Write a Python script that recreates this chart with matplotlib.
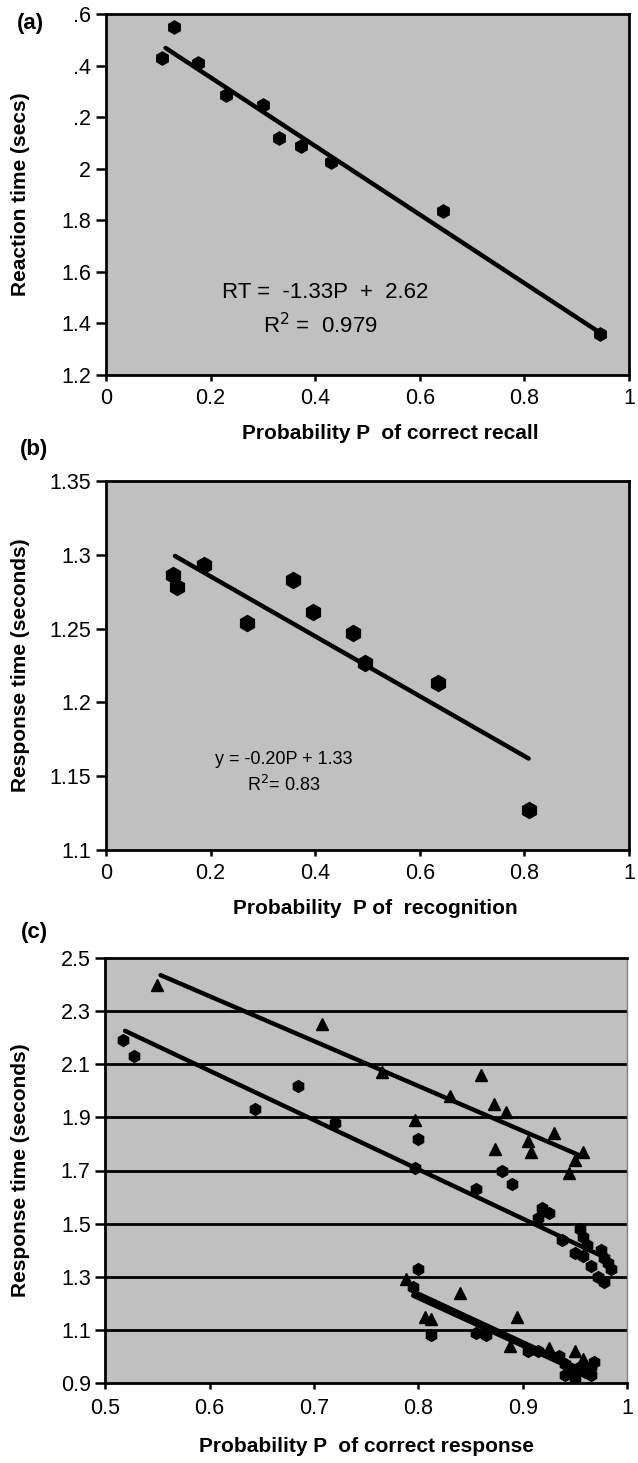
import numpy as np
import matplotlib
matplotlib.use('Agg')
import matplotlib.pyplot as plt

plt.rcParams['font.family'] = ['Liberation Sans', 'DejaVu Sans']

# (a) 再生確率と反応時間
pa_x = [0.107, 0.13, 0.176, 0.23, 0.30, 0.33, 0.373, 0.43, 0.644, 0.944]
pa_y = [2.43, 2.55, 2.41, 2.285, 2.247, 2.12, 2.09, 2.025, 1.835, 1.36]
pa_fit = (-1.33, 2.62)
pa_range = (0.114, 0.94)
pa_yticks = [1.2, 1.4, 1.6, 1.8, 2.0, 2.2, 2.4, 2.6]
pa_ylabels = ['1.2', '1.4', '1.6', '1.8', '2', '.2', '.4', '.6']

# (b) 再認確率と反応時間
pb_x = [0.128, 0.136, 0.187, 0.27, 0.358, 0.395, 0.472, 0.496, 0.634, 0.808]
pb_y = [1.286, 1.278, 1.293, 1.254, 1.283, 1.261, 1.247, 1.227, 1.213, 1.127]
pb_fit = (-0.203, 1.326)
pb_range = (0.132, 0.808)

# (c) 三角形の系列
tri_x = [0.55, 0.708, 0.765, 0.83, 0.86, 0.872, 0.884, 0.797, 0.93, 0.905,
         0.908, 0.873, 0.958, 0.95, 0.944]
tri_y = [2.40, 2.25, 2.07, 1.98, 2.06, 1.95, 1.92, 1.89, 1.84, 1.81,
         1.77, 1.78, 1.77, 1.74, 1.69]
tri_fit = (-1.69, 3.37)
tri_range = (0.553, 0.953)

# (c) ひし形の系列
dia_x = [0.517, 0.528, 0.643, 0.685, 0.72, 0.80, 0.797, 0.88, 0.89, 0.855,
         0.918, 0.925, 0.915, 0.938, 0.955, 0.958, 0.962, 0.950, 0.958,
         0.965, 0.975, 0.978, 0.982, 0.985, 0.972, 0.978]
dia_y = [2.19, 2.13, 1.93, 2.02, 1.88, 1.82, 1.71, 1.70, 1.65, 1.63,
         1.56, 1.54, 1.52, 1.44, 1.48, 1.45, 1.42, 1.39, 1.38,
         1.34, 1.40, 1.37, 1.35, 1.33, 1.30, 1.28]
dia_fit = (-1.856, 3.189)
dia_range = (0.519, 0.98)

# (c) 下の群
low_tri_x = [0.788, 0.84, 0.806, 0.812, 0.894, 0.888, 0.925, 0.95, 0.958]
low_tri_y = [1.29, 1.24, 1.15, 1.14, 1.15, 1.04, 1.03, 1.02, 0.99]
low_dia_x = [0.80, 0.795, 0.812, 0.855, 0.865, 0.905, 0.915, 0.935, 0.94,
             0.945, 0.94, 0.95, 0.955, 0.96, 0.965, 0.968, 0.965]
low_dia_y = [1.33, 1.26, 1.08, 1.09, 1.08, 1.02, 1.02, 1.00, 0.97,
             0.95, 0.93, 0.92, 0.96, 0.94, 0.96, 0.98, 0.93]
low_fit1 = (-1.824, 2.695)
low_fit2 = (-1.80, 2.66)
low_range = (0.795, 0.965)

bg = '#c0c0c0'
tick_fs = 15.5
lab_fs = 15


def style_axes(ax, xpad=5):
    ax.set_facecolor(bg)
    for s in ax.spines.values():
        s.set_linewidth(2.0)
        s.set_color('black')
    ax.tick_params(direction='out', width=1.8, labelsize=tick_fs)
    ax.tick_params(axis='x', length=4.5, pad=xpad)
    ax.tick_params(axis='y', length=7, pad=3.5)


def fit_line(ax, fit, xr, lw=3.2):
    xs = np.array(xr)
    ax.plot(xs, fit[0] * xs + fit[1], '-', color='black', lw=lw,
            solid_capstyle='round', zorder=3)


fig = plt.figure(figsize=(6.38, 14.63), dpi=100)

# (a)
ax1 = fig.add_axes([0.166, 1 - 375 / 1463, 0.820, 361 / 1463])
style_axes(ax1)
ax1.plot(pa_x, pa_y, 'h', color='black', ms=9.5, zorder=4)
fit_line(ax1, pa_fit, pa_range)
ax1.set_xlim(0, 1)
ax1.set_ylim(1.2, 2.6)
ax1.set_xticks([0, 0.2, 0.4, 0.6, 0.8, 1.0])
ax1.set_xticklabels(['0', '0.2', '0.4', '0.6', '0.8', '1'])
ax1.set_yticks(pa_yticks)
ax1.set_yticklabels(pa_ylabels)
ax1.set_ylabel('Reaction time (secs)', fontsize=lab_fs, fontweight='bold')
ax1.yaxis.set_label_coords(-0.145, 0.5)
ax1.set_xlabel('Probability P  of correct recall', fontsize=lab_fs, fontweight='bold')
ax1.xaxis.set_label_coords(0.543, -0.136)
ax1.text(0.42, 1.52, 'RT =  -1.33P  +  2.62', fontsize=16, ha='center', va='center')
ax1.text(0.41, 1.39, 'R$^2$ =  0.979', fontsize=16, ha='center', va='center')

# (b)
ax2 = fig.add_axes([0.166, 1 - 850 / 1463, 0.820, 369 / 1463])
style_axes(ax2)
ax2.plot(pb_x, pb_y, 'h', color='black', ms=11.5, zorder=4)
fit_line(ax2, pb_fit, pb_range)
ax2.set_xlim(0, 1)
ax2.set_ylim(1.1, 1.35)
ax2.set_xticks([0, 0.2, 0.4, 0.6, 0.8, 1.0])
ax2.set_xticklabels(['0', '0.2', '0.4', '0.6', '0.8', '1'])
ax2.set_yticks([1.1, 1.15, 1.2, 1.25, 1.3, 1.35])
ax2.set_yticklabels(['1.1', '1.15', '1.2', '1.25', '1.3', '1.35'])
ax2.set_ylabel('Response time (seconds)', fontsize=lab_fs, fontweight='bold')
ax2.yaxis.set_label_coords(-0.145, 0.5)
ax2.set_xlabel('Probability  P of  recognition', fontsize=lab_fs, fontweight='bold')
ax2.xaxis.set_label_coords(0.515, -0.133)
ax2.text(0.34, 1.161, 'y = -0.20P + 1.33', fontsize=13, ha='center', va='center')
ax2.text(0.34, 1.144, 'R$^2$= 0.83', fontsize=13, ha='center', va='center')

# (c)
ax3 = fig.add_axes([0.165, 1 - 1383 / 1463, 0.818, 425 / 1463])
style_axes(ax3, xpad=6.5)
ax3.spines['right'].set_linewidth(1.0)
ax3.spines['right'].set_color('#808080')
yt = [0.9, 1.1, 1.3, 1.5, 1.7, 1.9, 2.1, 2.3, 2.5]
for v in yt[1:-1]:
    ax3.axhline(v, color='black', lw=2.0, zorder=1)
ax3.plot(tri_x, tri_y, '^', color='black', ms=8.5, zorder=4)
ax3.plot(dia_x, dia_y, 'h', color='black', ms=8.5, zorder=4)
ax3.plot(low_tri_x, low_tri_y, '^', color='black', ms=8.5, zorder=4)
ax3.plot(low_dia_x, low_dia_y, 'h', color='black', ms=8.5, zorder=4)
fit_line(ax3, tri_fit, tri_range)
fit_line(ax3, dia_fit, dia_range)
fit_line(ax3, low_fit1, low_range)
fit_line(ax3, low_fit2, low_range)
ax3.set_xlim(0.5, 1)
ax3.set_ylim(0.9, 2.5)
ax3.set_xticks([0.5, 0.6, 0.7, 0.8, 0.9, 1.0])
ax3.set_xticklabels(['0.5', '0.6', '0.7', '0.8', '0.9', '1'])
ax3.set_yticks(yt)
ax3.set_yticklabels([f'{v:.1f}' for v in yt])
ax3.set_ylabel('Response time (seconds)', fontsize=lab_fs, fontweight='bold')
ax3.yaxis.set_label_coords(-0.145, 0.5)
ax3.set_xlabel('Probability P  of correct response', fontsize=lab_fs, fontweight='bold')
ax3.xaxis.set_label_coords(0.5, -0.127)

fig.text(0.048, 1 - 24 / 1463, '(a)', fontsize=16, fontweight='bold', ha='center', va='center')
fig.text(0.054, 1 - 450 / 1463, '(b)', fontsize=16, fontweight='bold', ha='center', va='center')
fig.text(0.054, 1 - 933 / 1463, '(c)', fontsize=16, fontweight='bold', ha='center', va='center')

fig.savefig('out.png', dpi=100)
